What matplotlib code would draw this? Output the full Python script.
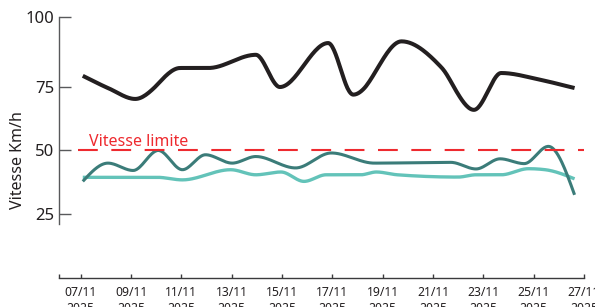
import numpy as np
import pandas as pd
import matplotlib
matplotlib.use("Agg")
import matplotlib.pyplot as plt
import matplotlib.dates as mdates

# ---------------- data ----------------
black_times = ["2025-11-07 02:00", "2025-11-08 02:00", "2025-11-09 04:00", "2025-11-10 23:00",
               "2025-11-12 02:00", "2025-11-13 23:00", "2025-11-14 22:00", "2025-11-16 20:00",
               "2025-11-17 20:00", "2025-11-19 18:00", "2025-11-21 08:00", "2025-11-22 15:00",
               "2025-11-23 17:00", "2025-11-25 06:00", "2025-11-26 15:00"]
black_values = [79.0, 74.6, 70.3, 81.8, 81.8, 86.5, 75.0, 90.7, 72.0, 91.3, 82.0, 66.0, 80.0, 77.6, 74.6]

dark_times = ["2025-11-07 02:00", "2025-11-08 02:00", "2025-11-09 02:00", "2025-11-10 02:00",
              "2025-11-11 01:00", "2025-11-11 23:00", "2025-11-13 00:30", "2025-11-13 23:00",
              "2025-11-15 13:00", "2025-11-16 23:00", "2025-11-18 16:00", "2025-11-21 17:00",
              "2025-11-22 17:00", "2025-11-23 16:00", "2025-11-24 15:00", "2025-11-25 14:00",
              "2025-11-26 15:00"]
dark_values = [37.8, 45.0, 42.1, 50.0, 42.4, 48.3, 45.0, 47.6, 43.1, 49.0, 45.0, 45.3, 42.7, 46.7,
               44.8, 51.6, 32.5]

light_times = ["2025-11-07 02:00", "2025-11-10 01:00", "2025-11-11 01:00", "2025-11-12 23:00",
               "2025-11-13 23:00", "2025-11-14 23:00", "2025-11-15 21:00", "2025-11-16 18:00",
               "2025-11-18 03:00", "2025-11-18 18:00", "2025-11-19 14:00", "2025-11-22 00:00",
               "2025-11-22 17:00", "2025-11-23 17:00", "2025-11-24 19:00", "2025-11-25 11:00",
               "2025-11-26 15:00"]
light_values = [39.4, 39.4, 38.4, 42.4, 40.4, 41.5, 37.8, 40.4, 40.4, 41.5, 40.4, 39.5, 40.4, 40.4,
                42.8, 42.4, 38.8]

speed_limit = 50
limit_label = "Vitesse limite"
y_label = "Vitesse Km/h"
y_ticks = [25, 50, 75, 100]
x_tick_dates = pd.date_range("2025-11-07", "2025-11-27", freq="2D")

# ---------------- helpers ----------------
def monotone_curve(xs, ys, n=30):
    """Monotone cubic (d3 curveMonotoneX style) rendering of the given points."""
    x = np.asarray(xs, float)
    y = np.asarray(ys, float)
    h = np.diff(x)
    s = np.diff(y) / h
    t = np.zeros_like(x)
    for i in range(1, len(x) - 1):
        h0, h1, s0, s1 = h[i - 1], h[i], s[i - 1], s[i]
        p = (s0 * h1 + s1 * h0) / (h0 + h1)
        t[i] = (np.sign(s0) + np.sign(s1)) * min(abs(s0), abs(s1), 0.5 * abs(p))
    t[0] = (3 * s[0] - t[1]) / 2
    t[-1] = (3 * s[-1] - t[-2]) / 2
    out_x, out_y = [], []
    for i in range(len(x) - 1):
        u = np.linspace(0, 1, n, endpoint=(i == len(x) - 2))
        dx = h[i]
        h00 = 2 * u**3 - 3 * u**2 + 1
        h10 = u**3 - 2 * u**2 + u
        h01 = -2 * u**3 + 3 * u**2
        h11 = u**3 - u**2
        out_x.append(x[i] + u * dx)
        out_y.append(h00 * y[i] + h10 * dx * t[i] + h01 * y[i + 1] + h11 * dx * t[i + 1])
    return np.concatenate(out_x), np.concatenate(out_y)

K = 2.8 / 2.536  # the reference stretches the 75-100 band slightly
def fwd(v):
    v = np.asarray(v, float)
    return np.where(v <= 75, v, 75 + (v - 75) * K)
def inv(v):
    v = np.asarray(v, float)
    return np.where(v <= 75, v, 75 + (v - 75) / K)

# ---------------- figure ----------------
plt.rcParams['font.family'] = ['Noto Sans', 'DejaVu Sans']
fig = plt.figure(figsize=(5.95, 3.07), dpi=100)
ax = fig.add_axes([59 / 595, 1 - 224 / 307, (584 - 59) / 595, (224 - 17) / 307])
ax.set_yscale('function', functions=(fwd, inv))

def dnum(lst):
    return mdates.date2num(pd.to_datetime(lst))

for times, vals, color, lw, z in [
    (light_times, light_values, "#63c3b9", 2.4, 3),
    (dark_times, dark_values, "#3b7c79", 2.2, 4),
    (black_times, black_values, "#231f20", 2.9, 5),
]:
    cx, cy = monotone_curve(dnum(times), vals)
    ax.plot(cx, cy, color=color, lw=lw, solid_capstyle='butt', zorder=z)

x0 = mdates.date2num(pd.Timestamp("2025-11-07")) - 0.862
x1 = mdates.date2num(pd.Timestamp("2025-11-27"))
ax.hlines(speed_limit, mdates.date2num(pd.Timestamp("2025-11-06 21:30")),
          mdates.date2num(pd.Timestamp("2025-11-27 00:30")),
          colors="#ee2a2f", lw=1.5, linestyles=(0, (9.5, 6.5)), zorder=6)
ax.text(mdates.date2num(pd.Timestamp("2025-11-07 08:00")), 51.6, limit_label,
        color="#ee2a2f", fontsize=11.5, ha='left', va='baseline', zorder=7)

ax.set_xlim(x0, x1)
ax.set_ylim(21, 100)

for side in ['top', 'right']:
    ax.spines[side].set_visible(False)
ax.spines['left'].set_color('#58595b')
ax.spines['left'].set_linewidth(1.0)
ax.spines['bottom'].set_color('#3a3a3c')
ax.spines['bottom'].set_linewidth(1.0)
ax.spines['bottom'].set_position(('outward', 54 * 72 / 100))

ax.set_yticks(y_ticks)
ax.set_yticklabels([str(v) for v in y_ticks])
ax.tick_params(axis='y', direction='in', length=8.6, width=1.0, color='#58595b',
               labelsize=12, labelcolor='#231f20', pad=3.4)

ax.set_xticks(mdates.date2num(x_tick_dates))
ax.set_xticklabels([d.strftime("%d/%m\n%Y") for d in x_tick_dates], linespacing=1.38)
ax.set_xticks([x0], minor=True)
ax.tick_params(axis='x', which='both', direction='in', length=3, width=1.0, color='#3a3a3c',
               labelsize=8.8, labelcolor='#231f20', pad=5.5)

fig.text(18 / 595, 1 - 160 / 307, y_label, rotation=90, ha='center', va='center',
         fontsize=11.5, color='#231f20')

fig.savefig("out.png", dpi=100)
